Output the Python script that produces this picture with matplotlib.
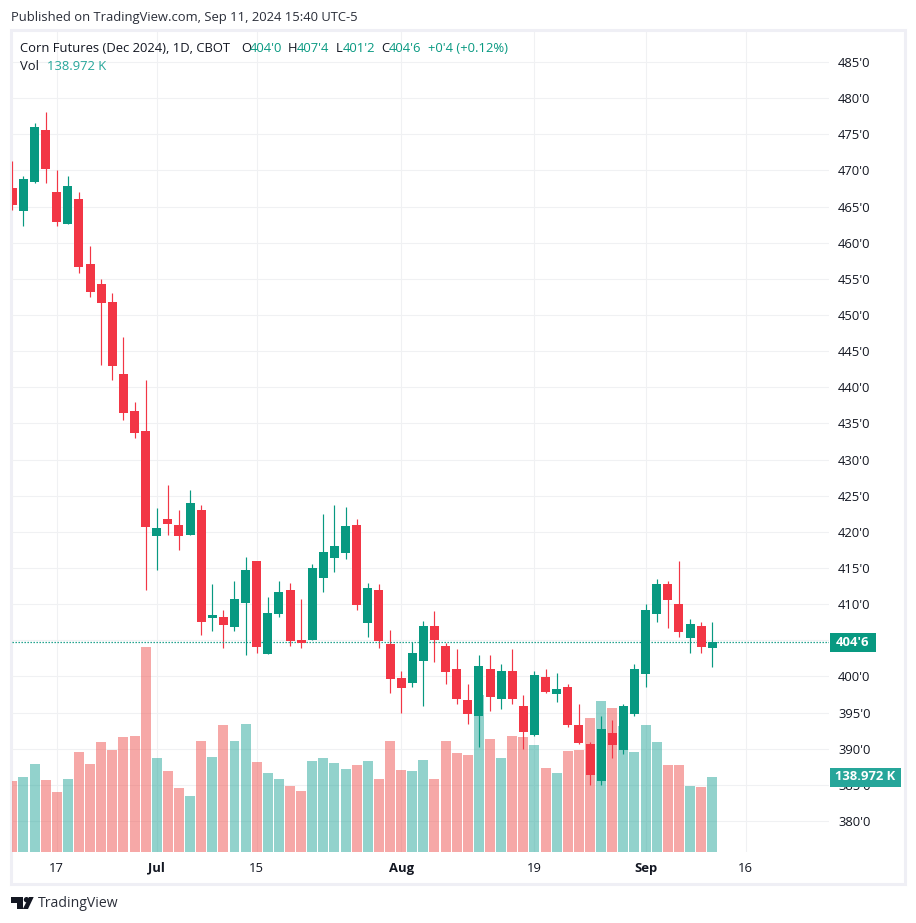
import matplotlib
matplotlib.use("Agg")
import matplotlib.pyplot as plt
from matplotlib.patches import Rectangle, Polygon, Circle

# daily OHLC, Corn Futures Dec 2024
opens = [467.57, 464.43, 468.4, 475.59, 467.02, 462.59, 466.05, 457.06, 454.29, 451.8, 441.84, 436.72, 433.96,
         419.43, 421.78, 420.95, 419.57, 423.03, 408.09, 408.22, 406.84, 410.16, 415.97, 403.11, 408.64, 411.96,
         405.04, 405.04, 413.62, 416.39, 417.08, 420.95, 407.4, 411.96, 404.49, 399.79, 399.1, 402.14, 406.98,
         404.21, 401.03, 396.74, 394.53, 401.03, 396.88, 400.76, 395.92, 391.9, 399.93, 397.57, 398.54, 393.28,
         390.66, 385.54, 392.18, 389.83, 394.81, 400.34, 408.64, 412.79, 410.02, 405.32, 406.98, 404.0]
highs = [471.31, 469.23, 476.56, 478.08, 470.06, 469.23, 467.02, 459.55, 454.98, 453.05, 446.96, 437.97, 441.01,
         423.3, 426.49, 423.03, 425.79, 423.72, 412.79, 409.19, 413.2, 416.53, 415.97, 410.99, 413.2, 412.93,
         410.72, 415.56, 422.47, 423.72, 423.44, 421.78, 412.93, 412.79, 406.43, 400.76, 404.77, 407.67, 409.05,
         404.63, 403.8, 398.96, 402.97, 402.97, 401.73, 403.8, 397.44, 400.76, 401.03, 400.48, 398.96, 396.19,
         390.93, 394.53, 393.98, 396.19, 401.73, 410.02, 413.48, 413.2, 415.97, 407.95, 407.53, 407.5]
lows = [464.5, 462.31, 468.26, 468.26, 462.31, 462.59, 455.85, 452.49, 443.09, 441.01, 435.48, 432.99, 411.96,
        414.73, 419.57, 417.49, 419.57, 405.74, 406.29, 403.94, 406.29, 402.97, 403.25, 403.11, 408.22, 404.21,
        403.94, 405.04, 411.68, 414.45, 416.25, 409.19, 405.46, 403.94, 397.71, 394.95, 398.54, 395.92, 402.0,
        398.96, 396.19, 393.42, 390.24, 395.22, 395.5, 396.19, 389.97, 391.77, 397.71, 396.47, 393.01, 390.66,
        384.99, 384.99, 388.72, 389.27, 394.53, 398.54, 407.53, 406.71, 405.46, 403.25, 403.25, 401.25]
closes = [465.26, 468.82, 476.0, 470.2, 462.87, 467.85, 456.68, 453.18, 451.66, 442.95, 436.45, 433.68, 420.68,
          420.54, 421.09, 419.43, 424.0, 407.53, 408.5, 407.12, 410.72, 414.73, 404.08, 408.78, 411.68, 404.9,
          404.63, 415.0, 417.22, 418.05, 420.81, 409.89, 412.24, 404.9, 399.65, 398.4, 403.25, 406.98, 405.04,
          400.62, 396.88, 394.81, 401.45, 397.16, 400.76, 396.88, 392.32, 400.2, 397.85, 398.26, 393.28, 390.8,
          386.37, 392.73, 390.52, 395.92, 401.03, 409.19, 412.79, 410.58, 406.15, 407.26, 404.08, 404.75]
# volume in thousands
volumes = [131.6, 139, 163, 133.4, 111.2, 135.3, 185.3, 163, 203.8, 189, 213.1, 215, 379.9, 174.2, 150.1, 118.6,
           103.8, 205.7, 176, 235.3, 205.7, 237.2, 166.8, 146.4, 135.3, 122.3, 113, 168.6, 174.2, 164.9, 153.8,
           161.2, 168.6, 135.3, 205.7, 152, 150.1, 170.5, 135.3, 205.7, 183.5, 179.8, 290.9, 209.4, 174.2, 215,
           213.1, 198.3, 155.7, 146.4, 187.2, 189, 248.3, 279.8, 266.9, 233.5, 185.3, 235.3, 203.8, 161.2, 161.2,
           122.3, 120.5, 139]

price_ticks = [380, 385, 390, 395, 400, 405, 410, 415, 420, 425, 430, 435, 440, 445, 450, 455, 460, 465, 470, 475,
               480, 485]
date_ticks = [4, 13, 22, 35, 47, 57, 66]
date_labels = ["17", "Jul", "15", "Aug", "19", "Sep", "16"]

GREEN = "#089981"
RED = "#F23645"
GRID = "#F0F1F3"
FRAME = "#EFEFF5"
TEXT = "#131722"
FONT = "Open Sans"
FS = 9.35

W, H = 916, 923
plt.rcParams["font.family"] = FONT
fig = plt.figure(figsize=(W / 100, H / 100), dpi=100, facecolor="white")

# overlay in pixel coordinates for frame, header and footer
bg = fig.add_axes([0, 0, 1, 1])
bg.set_xlim(0, W)
bg.set_ylim(H, 0)
bg.axis("off")
bg.add_patch(Rectangle((11, 30), 894, 854, fill=False, ec=FRAME, lw=2.2))

# main panel: left 11.7, right 829, top 32, bottom 852
left, right, top, bottom = 11.7, 829, 32, 852
ax = fig.add_axes([left / W, 1 - bottom / H, (right - left) / W, (bottom - top) / H])
ax.patch.set_alpha(0)
px_per_bar = 11.11
ax.set_xlim((left - 12.3) / px_per_bar, (right - 12.3) / px_per_bar)
ax.set_ylim(485 - (bottom - 62) * 0.13833, 485 + (62 - top) * 0.13833)
for s in ax.spines.values():
    s.set_visible(False)

# volume pane shares the panel, 1.853 K per pixel
vol = ax.twinx()
vol.patch.set_alpha(0)
vol.set_ylim(0, (bottom - top) * 1.853)
vol.set_yticks([])
for s in vol.spines.values():
    s.set_visible(False)
x = list(range(len(opens)))
up = [c >= o for o, c in zip(opens, closes)]
vol.bar(x, volumes, width=0.9, lw=0, color=["#26A69A" if u else "#EF5350" for u in up], alpha=0.5, zorder=1)

# candles on top of the volume
price = vol.twinx()
price.patch.set_alpha(0)
price.set_ylim(ax.get_ylim())
price.set_yticks([])
for s in price.spines.values():
    s.set_visible(False)
colors = [GREEN if u else RED for u in up]
price.vlines(x, lows, highs, colors=colors, lw=0.85, zorder=2)
price.bar(x, [abs(c - o) for o, c in zip(opens, closes)], bottom=[min(o, c) for o, c in zip(opens, closes)],
          width=0.81, lw=0, color=colors, zorder=3)
price.axhline(closes[-1], color=GREEN, lw=0.9, ls=(0, (1.1, 1.3)), zorder=2)

# twinx moves the ticks, so set them up after it
ax.set_axisbelow(True)
ax.grid(True, color=GRID, lw=0.75)
ax.yaxis.tick_right()
ax.set_yticks(price_ticks)
ax.set_yticklabels([f"{p}'0" for p in price_ticks], fontsize=FS, color=TEXT)
ax.set_xticks(date_ticks)
ax.set_xticklabels(date_labels, fontsize=FS, color=TEXT)
for lab in ax.get_xticklabels():
    if lab.get_text() in ("Jul", "Aug", "Sep"):
        lab.set_fontweight("bold")
ax.tick_params(axis="both", length=0)
ax.tick_params(axis="y", pad=6.5)
ax.tick_params(axis="x", pad=7)

# top layer for tags and text
fg = fig.add_axes([0, 0, 1, 1])
fg.set_xlim(0, W)
fg.set_ylim(H, 0)
fg.axis("off")
fg.add_patch(Rectangle((830, 633), 46, 19, fc=GREEN, lw=0))
fg.text(853, 642, "404'6", color="white", fontsize=FS, fontweight="bold", ha="center", va="center")
fg.add_patch(Rectangle((830, 768), 71, 19, fc="#26A69A", lw=0))
fg.text(865.5, 777, "138.972 K", color="white", fontsize=FS, fontweight="bold", ha="center", va="center")

fg.text(11, 18, "Published on TradingView.com, Sep 11, 2024 15:40 UTC-5", color="#2A2E39", fontsize=FS, va="center")
y_head = 48.5
for xp, s, c in [(20, "Corn Futures (Dec 2024), 1D, CBOT", TEXT), (241, "O", TEXT), (250, "404'0", GREEN),
                 (288, "H", TEXT), (297, "407'4", GREEN), (336, "L", TEXT), (343, "401'2", GREEN),
                 (381, "C", TEXT), (389, "404'6", GREEN), (428, "+0'4 (+0.12%)", GREEN)]:
    fg.text(xp, y_head, s, color=c, fontsize=FS, va="center")
fg.text(20, 67, "Vol", color=TEXT, fontsize=FS, va="center")
fg.text(47, 67, "138.972 K", color="#26A69A", fontsize=FS, va="center")

# logo
fg.add_patch(Polygon([(11, 897), (23, 897), (23, 909), (17, 909), (17, 903), (11, 903)], fc=TEXT, lw=0))
fg.add_patch(Circle((26.5, 899.7), 2.7, fc=TEXT, lw=0))
fg.add_patch(Polygon([(29, 897), (33.7, 897), (28, 909), (22.8, 909)], fc=TEXT, lw=0))
fg.text(38, 903.5, "TradingView", color="#2A2E39", fontsize=10.1, va="center")

fig.savefig("out.png", dpi=100)
